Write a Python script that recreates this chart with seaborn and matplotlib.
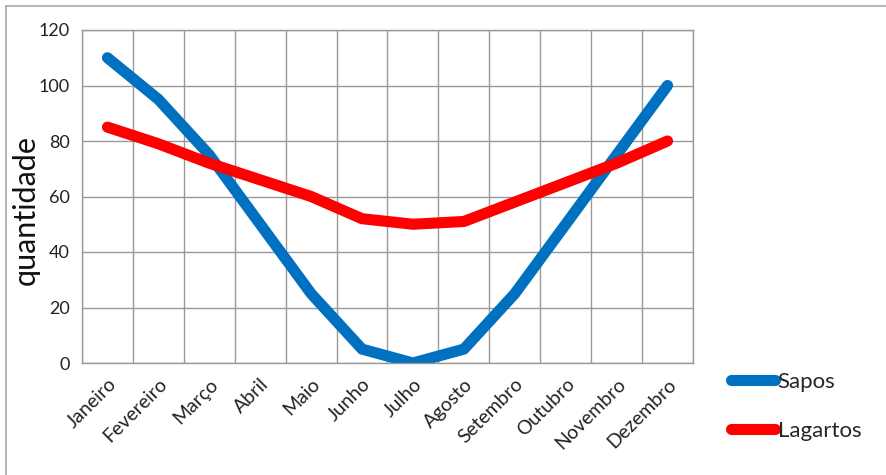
import matplotlib.pyplot as plt
import pandas as pd
import seaborn as sns

meses = ['Janeiro', 'Fevereiro', 'Março', 'Abril', 'Maio', 'Junho', 'Julho',
         'Agosto', 'Setembro', 'Outubro', 'Novembro', 'Dezembro']
sapos = [110, 95, 75, 50, 25, 5, 0, 5, 25, 50, 75, 100]
lagartos = [85, 79, 72, 66, 60, 52, 50, 51, 58, 65, 72, 80]

df = pd.DataFrame({'mes': meses * 2,
                   'pos': list(range(len(meses))) * 2,
                   'quantidade': sapos + lagartos,
                   'serie': ['Sapos'] * len(meses) + ['Lagartos'] * len(meses)})

sns.set_style("white")
plt.rcParams['font.family'] = ['Lato', 'DejaVu Sans']

fig = plt.figure(figsize=(8.86, 4.75), dpi=100)
ax = fig.add_axes([82/886, 1 - 363/475, (693 - 82)/886, (363 - 30)/475])

sns.lineplot(data=df, x='pos', y='quantidade', hue='serie',
             palette={'Sapos': '#0070C0', 'Lagartos': '#FF0000'},
             linewidth=8, solid_capstyle='round', solid_joinstyle='round',
             ax=ax, legend=False)

ax.set_xlim(-0.5, len(meses) - 0.5)
ax.set_ylim(0, 120)
ax.set_yticks(range(0, 121, 20))
ax.set_xticks(range(len(meses)))
ax.set_xticklabels(meses, rotation=45, ha='right', rotation_mode='anchor',
                   fontsize=14, color='#222222')
ax.set_xticks([i - 0.5 for i in range(len(meses) + 1)], minor=True)
ax.tick_params(axis='x', which='major', length=0, pad=9)
ax.tick_params(axis='x', which='minor', length=5, color='#999999', width=1)
ax.tick_params(axis='y', length=5, color='#999999', width=1, labelsize=13,
               labelcolor='#222222', pad=4)
ax.grid(True, which='minor', axis='x', color='#999999', linewidth=1)
ax.grid(True, which='major', axis='y', color='#999999', linewidth=1)
for s in ax.spines.values():
    s.set_color('#999999')
    s.set_linewidth(1)
ax.set_xlabel('')
ax.set_ylabel('quantidade', fontsize=22, color='#111111')
ax.yaxis.set_label_coords(-0.069, 0.46)

h1, = ax.plot([], [], color='#0070C0', linewidth=8)
h2, = ax.plot([], [], color='#FF0000', linewidth=8)
fig.legend([h1, h2], ['Sapos', 'Lagartos'], loc='upper left',
           bbox_to_anchor=(731/886, 1 - 372/475), frameon=False,
           fontsize=16, handlelength=2.0, handletextpad=0.1,
           labelspacing=1.3, borderaxespad=0, borderpad=0)

fig.add_artist(plt.Line2D([6/886, 1], [1 - 6/475, 1 - 6/475], color='#aaaaaa', linewidth=1.2))
fig.add_artist(plt.Line2D([6/886, 6/886], [0, 1 - 6/475], color='#aaaaaa', linewidth=1.2))

plt.savefig('out.png', dpi=100)
